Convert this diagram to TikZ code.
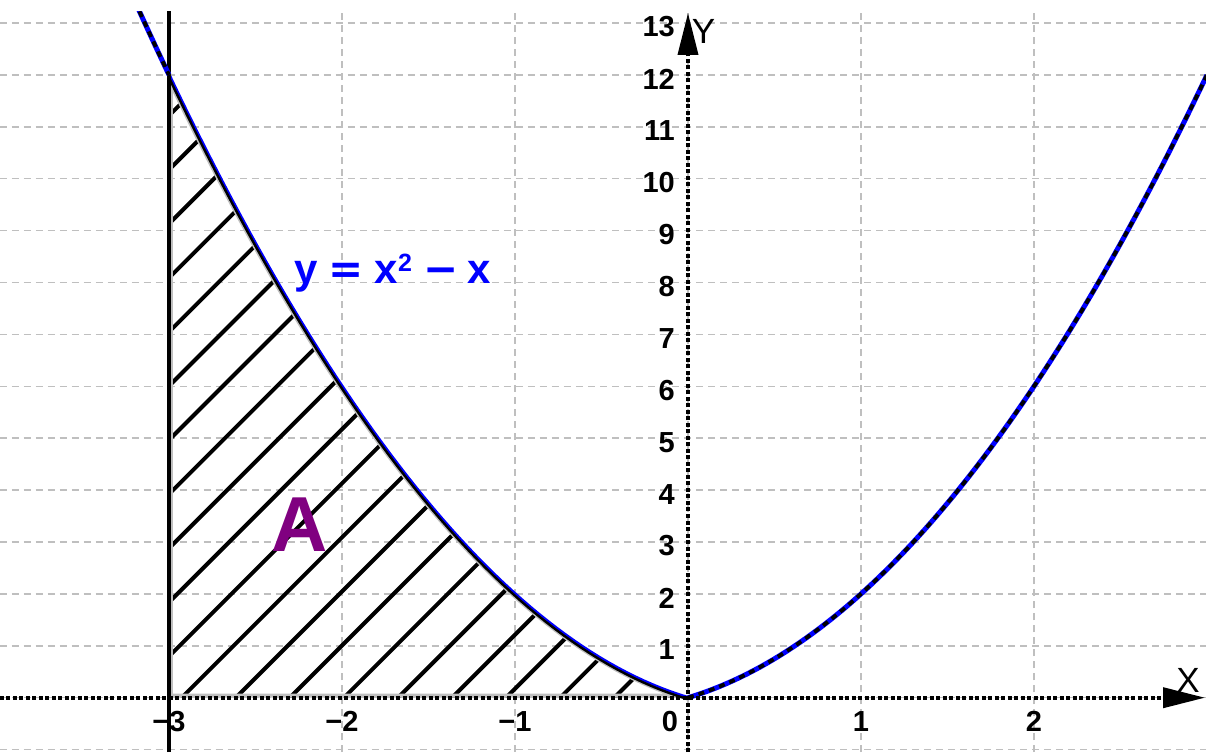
\documentclass[tikz,border=0pt]{standalone}
\usepackage{fontspec}
\setmainfont{Liberation Sans}
\newfontfamily\dvsans{DejaVu Sans}
\usetikzlibrary{arrows.meta}
\definecolor{areapurple}{RGB}{128,0,128}
\begin{document}
\begin{tikzpicture}[x=173pt,y=51.9pt,
 gridline/.style={draw=black!25, line width=1.5pt, dash pattern=on 7pt off 5pt},
 axisline/.style={line width=3.8pt, dash pattern=on 4pt off 2.5pt, -{Triangle[length=42pt,width=20pt]}},
 ticklab/.style={font=\fontsize{29}{29}\selectfont\bfseries, inner sep=0pt},
 axislab/.style={font=\fontsize{35}{35}\selectfont, inner sep=0pt},
 hatchline/.style={line width=4pt, black},
 curvebase/.style={blue, line width=5pt},
 curvedash/.style={black, line width=3.8pt, dash pattern=on 6pt off 5pt},
 eqlabel/.style={blue, font=\fontsize{42}{42}\selectfont\bfseries, inner sep=0pt},
 arealabel/.style={areapurple, font=\fontsize{78}{78}\selectfont\bfseries, inner sep=0pt}]
\useasboundingbox (-3.97688,-1.04624) rectangle (2.99422,13.4432);
\fill[white] (-3.97688,-1.04624) rectangle (2.99422,13.4432);
\begin{scope}
\clip (-3.97688,-1.04624) rectangle (2.99422,13.212);
% grid
\foreach \yy in {-1,...,13} \draw[gridline] (-3.97688,\yy) -- (2.99422,\yy);
\foreach \xx in {-3,...,2} \draw[gridline] (\xx,-1.04624) -- (\xx,13.4432);
% hatched area
\begin{scope}
\clip (-3,0) -- plot[domain=-3:0,samples=60] (\x,{\x*\x-\x}) -- cycle;
\foreach \k in {-14,...,10} \draw[hatchline] ({(-506.3+54.07*\k)/173},0) -- ++(800pt,800pt);
\draw[black!25, line width=8pt] (-3,0) -- plot[domain=-3:0,samples=60] (\x,{\x*\x-\x}) -- cycle;
\end{scope}
% left boundary of the curve over the area
\draw[blue, line width=3.4pt] plot[domain=-3:0,samples=60] (\x,{\x*\x-\x});
\draw[black, line width=2.4pt] plot[domain=-3:0,samples=60] ({\x-0.004},{\x*\x-\x-0.025});
% vertical line x = -3
\coordinate (vb) at (-3,-1.04624);
\coordinate (vt) at (-3,13.4432);
\draw[black, line width=4.2pt] (vb) -- (vt);
% curve outside the area
\draw[curvebase] plot[domain=-3.3:-3,samples=20] (\x,{\x*\x-\x});
\draw[curvedash] plot[domain=-3.3:-3,samples=20] (\x,{\x*\x-\x});
\draw[curvebase] plot[domain=0:3,samples=80] (\x,{\x*\x+\x});
\draw[curvedash] plot[domain=0:3,samples=80] (\x,{\x*\x+\x});
\end{scope}
% axes
\coordinate (xs) at (-3.97688,0);
\coordinate (xe) at (2.98844,0);
\coordinate (ys) at (0,-1.04624);
\coordinate (ye) at (0,13.1927);
\draw[axisline] (xs) -- (xe);
\draw[axisline] (ys) -- (ye);
\node[axislab] (xlab) at (2.8902,0.341) {X};
\node[axislab] (ylab) at (0.0896,12.832) {Y};
% tick labels
\foreach \yy in {1,...,13} \node[ticklab, anchor=east, xshift=-13pt, yshift=-4pt] (ty\yy) at (0,\yy) {\yy};
\foreach \xx/\lab in {-3/−3,-2/−2,-1/−1,1/1,2/2} \node[ticklab, yshift=-23.8pt] (tx\xx) at (\xx,0) {\lab};
\node[ticklab, yshift=-23.8pt, xshift=-18pt] (tx0) at (0,0) {0};
% labels
\node[eqlabel, anchor=base west] (eq) at (-2.2775,7.985) {y\hspace{11pt}{\dvsans =}\hspace{11pt}x\raisebox{12pt}{\fontsize{25}{25}\selectfont 2}\hspace{11pt}{\dvsans −}\hspace{9pt}x};
\node[arealabel] (area) at (-2.2428,3.327) {A};
\end{tikzpicture}
\end{document}
